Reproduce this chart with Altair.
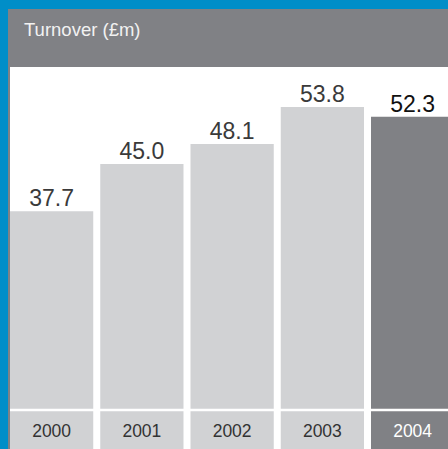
import altair as alt
import pandas as pd

years = ["2000", "2001", "2002", "2003", "2004"]
turnover = [37.7, 45.0, 48.1, 53.8, 52.3]
title_text = "Turnover (£m)"

df = pd.DataFrame({"year": years, "value": turnover})
df["label"] = [f"{v:.1f}" for v in turnover]

BLUE = "#008ec8"
DARK = "#808185"
LIGHT = "#d1d2d4"
FONT = "Liberation Sans"

xscale = alt.Scale(domain=years, range=[10, 454.25], paddingInner=0.0776, paddingOuter=0)
yscale = alt.Scale(domain=[0, 60], range=[455, 67])

base = alt.Chart(df)

frame = alt.Chart(pd.DataFrame({"a": [0]})).mark_rect(color=DARK).encode(
    x=alt.value(8), x2=alt.value(448), y=alt.value(9), y2=alt.value(449)
)
panel = alt.Chart(pd.DataFrame({"a": [0]})).mark_rect(color="white").encode(
    x=alt.value(10), x2=alt.value(448), y=alt.value(67), y2=alt.value(449)
)
header = alt.Chart(pd.DataFrame({"t": [title_text]})).mark_text(
    align="left", baseline="alphabetic", font=FONT, fontSize=18.5, color="#f2f2f2"
).encode(x=alt.value(24), y=alt.value(36), text="t:N")

is_last = alt.datum.year == "2004"

bars = base.mark_bar().encode(
    x=alt.X("year:N", scale=xscale, axis=None),
    y=alt.Y("value:Q", scale=yscale, axis=None),
    color=alt.condition(is_last, alt.value(DARK), alt.value(LIGHT)),
)

sep = alt.Chart(pd.DataFrame({"a": [0]})).mark_rule(color="white", strokeWidth=2.5).encode(
    x=alt.value(10), x2=alt.value(448), y=alt.value(410)
)

vlabels = base.mark_text(
    baseline="alphabetic", dy=-5, font=FONT, fontSize=23
).encode(
    x=alt.X("year:N", scale=xscale, axis=None),
    y=alt.Y("value:Q", scale=yscale, axis=None),
    text="label:N",
    color=alt.condition(is_last, alt.value("#111111"), alt.value("#3a3a3a")),
)

ylabels = base.mark_text(
    baseline="alphabetic", font=FONT, fontSize=17.5
).encode(
    x=alt.X("year:N", scale=xscale, axis=None),
    y=alt.value(437),
    text="year:N",
    color=alt.condition(is_last, alt.value("#ffffff"), alt.value("#333333")),
)

chart = alt.layer(frame, panel, header, bars, sep, vlabels, ylabels).properties(
    width=448, height=449, padding=0, background=BLUE,
    autosize=alt.AutoSizeParams(type="none"),
).configure_view(stroke=None)

chart.save("out.html", embed_options={"renderer": "svg", "actions": False})
